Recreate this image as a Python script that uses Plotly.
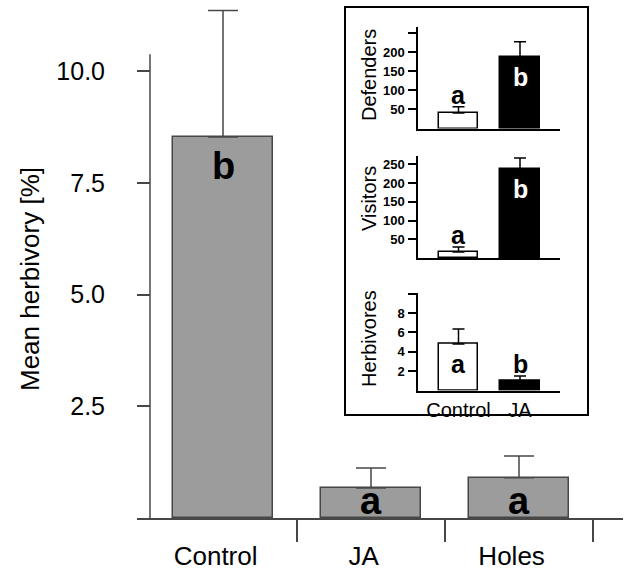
import plotly.graph_objects as go

# ---------------- data ----------------
categories = ["Control", "JA", "Holes"]
herbivory = [8.53, 0.67, 0.90]
herbivory_se = [2.83, 0.45, 0.49]
herbivory_letters = ["b", "a", "a"]
main_ticks = [2.5, 5.0, 7.5, 10.0]
main_ticklabels = ["2.5", "5.0", "7.5", "10.0"]

inset_groups = ["Control", "JA"]
defenders = [41, 188]
defenders_se = [16, 40]
defenders_letters = ["a", "b"]
visitors = [16, 237]
visitors_se = [13, 30]
visitors_letters = ["a", "b"]
herbivores = [4.8, 1.0]
herbivores_se = [1.55, 0.5]
herbivores_letters = ["a", "b"]

W, H = 626, 571
FONT = "Liberation Sans, Arial, Helvetica, sans-serif"
GREY_LINE = "#474747"


def fx(p):
    return p / W


def fy(p):
    return 1 - p / H


fig = go.Figure()

# ---------------- main chart ----------------
xs = list(range(len(categories)))
fig.add_trace(go.Bar(
    x=xs, y=herbivory, width=0.68,
    marker=dict(color="#9c9c9c", line=dict(color=GREY_LINE, width=1.5)),
    error_y=dict(type="data", array=herbivory_se, arrayminus=[0] * len(xs),
                 symmetric=False, color=GREY_LINE, thickness=1.5, width=15),
    xaxis="x", yaxis="y", showlegend=False, hoverinfo="skip"))

main_px_per_unit_x = 148.0
main_x0_px = 223.0
main_zero_px = 518.0
main_px_per_unit_y = 44.67
main_top_px = 5.0
label_offset = -0.05  # category labels sit slightly left of bar centres

layout = dict(
    width=W, height=H, margin=dict(l=0, r=0, t=0, b=0, autoexpand=False),
    paper_bgcolor="white", plot_bgcolor="rgba(0,0,0,0)",
    font=dict(family=FONT, color="black"),
    showlegend=False, bargap=0,
    xaxis=dict(
        domain=[fx(137), fx(623)], automargin=False,
        range=[(137 - main_x0_px) / main_px_per_unit_x, (623 - main_x0_px) / main_px_per_unit_x],
        tickmode="array", tickvals=[x + label_offset for x in xs], ticktext=categories, ticks="",
        tickfont=dict(size=26, family=FONT, color="black"),
        ticklabelstandoff=14,
        showline=True, linecolor=GREY_LINE, linewidth=1.5,
        showgrid=False, zeroline=False, fixedrange=True,
        minor=dict(tickmode="array", tickvals=[x + 0.5 for x in xs], ticks="outside",
                   ticklen=22, tickwidth=1.5, tickcolor=GREY_LINE, showgrid=False),
        anchor="y",
    ),
    yaxis=dict(
        domain=[fy(main_zero_px), fy(main_top_px)], automargin=False,
        range=[0, (main_zero_px - main_top_px) / main_px_per_unit_y],
        anchor="free", position=fx(150),
        tickmode="array", tickvals=main_ticks, ticktext=main_ticklabels,
        ticks="outside", ticklen=13, tickwidth=1.5, tickcolor=GREY_LINE,
        tickfont=dict(size=25, family=FONT, color="black"),
        ticklabelstandoff=27,
        showline=False, showgrid=False, zeroline=False, fixedrange=True,
    ),
)

shapes = []
annotations = []

# main y axis line (stops a bit above the top tick)
shapes.append(dict(type="line", xref="paper", yref="y", x0=fx(150), x1=fx(150),
                   y0=0, y1=10.38, line=dict(color=GREY_LINE, width=1.5)))

# main y title
annotations.append(dict(text="Mean herbivory [%]", xref="paper", yref="paper",
                        x=fx(30), y=fy(279), textangle=-90, showarrow=False,
                        font=dict(size=26, family=FONT, color="black"),
                        xanchor="center", yanchor="middle"))

# main significance letters
for x, v, l in zip(xs, herbivory, herbivory_letters):
    if v > 2:
        annotations.append(dict(text=l, x=x, y=v, xref="x", yref="y", yanchor="top",
                                yshift=-6, showarrow=False,
                                font=dict(size=38, family=FONT, color="black", weight="bold")))
    else:
        annotations.append(dict(text=l, x=x, y=0, xref="x", yref="y", yanchor="bottom",
                                yshift=-6, showarrow=False,
                                font=dict(size=38, family=FONT, color="black", weight="bold")))

# ---------------- inset ----------------
shapes.append(dict(type="rect", xref="paper", yref="paper",
                   x0=fx(345), x1=fx(588), y0=fy(415), y1=fy(7),
                   line=dict(color="black", width=2), fillcolor="white", layer="below"))

inset_px_per_unit_x = 61.5
inset_x0_px = 458.5
inset_left_px, inset_right_px = 418, 560
ix = list(range(len(inset_groups)))

panels = [
    # name, values, se, letters, ticks, ticklabels, range top, bottom px, top px, title y px
    ("Defenders", defenders, defenders_se, defenders_letters,
     [50, 100, 150, 200, 250], ["50", "100", "150", "200", ""], 267, 128.5, 27, 75),
    ("Visitors", visitors, visitors_se, visitors_letters,
     [50, 100, 150, 200, 250], ["50", "100", "150", "200", "250"], 272, 258, 156, 199),
    ("Herbivores", herbivores, herbivores_se, herbivores_letters,
     [2, 4, 6, 8, 10], ["2", "4", "6", "8", ""], 10.1, 390.5, 292.8, 339),
]

for k, (name, vals, se, letters, tv, tt, rtop, bpx, tpx, ty) in enumerate(panels):
    n = k + 2
    xa, ya = f"x{n}", f"y{n}"
    fig.add_trace(go.Bar(
        x=ix, y=vals, width=0.64,
        marker=dict(color=["white", "black"], line=dict(color="black", width=1.5)),
        error_y=dict(type="data", array=se, arrayminus=[0] * len(ix), symmetric=False,
                     color="black", thickness=1.5, width=6),
        xaxis=xa, yaxis=ya, showlegend=False, hoverinfo="skip"))
    last = (k == len(panels) - 1)
    layout[f"xaxis{n}"] = dict(
        domain=[fx(inset_left_px), fx(inset_right_px)], automargin=False,
        range=[(inset_left_px - inset_x0_px) / inset_px_per_unit_x,
               (inset_right_px - inset_x0_px) / inset_px_per_unit_x],
        anchor=ya, tickmode="array", tickvals=ix,
        ticktext=inset_groups if last else ["", ""],
        showticklabels=last, ticks="",
        tickfont=dict(size=20, family=FONT, color="black"),
        ticklabelstandoff=1,
        showline=True, linecolor="black", linewidth=1.5,
        showgrid=False, zeroline=False, fixedrange=True)
    layout[f"yaxis{n}"] = dict(
        domain=[fy(bpx), fy(tpx)], range=[0, rtop], anchor=xa, automargin=False,
        tickmode="array", tickvals=tv, ticktext=tt,
        ticks="outside", ticklen=8, tickwidth=1.5, tickcolor="black",
        tickfont=dict(size=13, family=FONT, color="black", weight="bold"),
        ticklabelstandoff=1,
        showline=True, linecolor="black", linewidth=1.5,
        showgrid=False, zeroline=False, fixedrange=True)
    annotations.append(dict(text=name, xref="paper", yref="paper", x=fx(369), y=fy(ty),
                            textangle=-90, showarrow=False, xanchor="center", yanchor="middle",
                            font=dict(size=20, family=FONT, color="black")))
    for x, v, s, l, c in zip(ix, vals, se, letters, ["black", "white"]):
        if v > 0.4 * rtop:
            annotations.append(dict(text=l, x=x, y=v, xref=xa, yref=ya, yanchor="top",
                                    yshift=-4, showarrow=False,
                                    font=dict(size=25, family=FONT, color=c, weight="bold")))
        else:
            annotations.append(dict(text=l, x=x, y=v + s, xref=xa, yref=ya, yanchor="bottom",
                                    yshift=-4, showarrow=False,
                                    font=dict(size=25, family=FONT, color="black", weight="bold")))

layout["shapes"] = shapes
layout["annotations"] = annotations
fig.update_layout(**layout)
fig.write_html("out.html")
